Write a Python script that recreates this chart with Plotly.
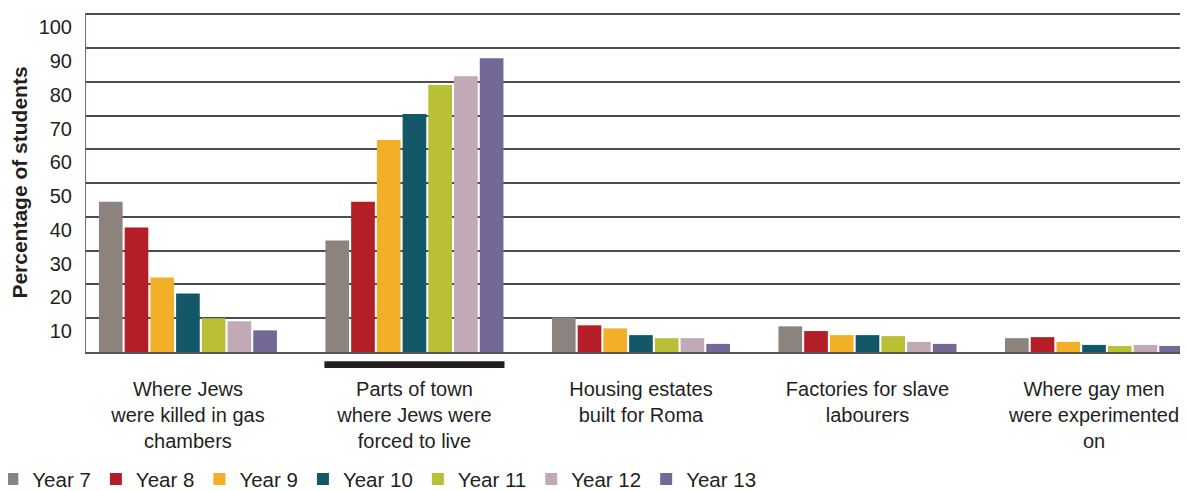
import plotly.graph_objects as go

categories = [
    "Where Jews<br>were killed in gas<br>chambers",
    "Parts of town<br>where Jews were<br>forced to live",
    "Housing estates<br>built for Roma",
    "Factories for slave<br>labourers",
    "Where gay men<br>were experimented<br>on",
]
years = ["Year 7", "Year 8", "Year 9", "Year 10", "Year 11", "Year 12", "Year 13"]
# one list per year group, values per category (percent)
values = {
    "Year 7":  [44.5, 33.0, 10.2, 7.6, 4.1],
    "Year 8":  [36.9, 44.5, 7.9, 6.2, 4.4],
    "Year 9":  [22.1, 62.8, 7.0, 5.0, 3.0],
    "Year 10": [17.3, 70.5, 5.0, 5.0, 2.1],
    "Year 11": [10.0, 79.1, 4.1, 4.7, 1.8],
    "Year 12": [9.1, 81.7, 4.1, 3.0, 2.1],
    "Year 13": [6.4, 87.0, 2.4, 2.4, 1.8],
}
colors = ["#8c837e", "#b41f27", "#f1b028", "#135868", "#b9c035", "#c1a9b6", "#736896"]
y_ticks = [10, 20, 30, 40, 50, 60, 70, 80, 90, 100]
highlight = 1  # index of the correct answer

font_family = "Liberation Sans, Arial, sans-serif"
text_color = "#231f20"
bargap = 0.205

fig = go.Figure()
for yr, col in zip(years, colors):
    fig.add_trace(go.Bar(x=list(range(len(categories))), y=values[yr], name=yr,
                         marker=dict(color=col, line=dict(width=0))))

# black bar under the correct answer
half = (1 - bargap) / 2
fig.add_shape(type="rect", xref="x", yref="paper",
              x0=highlight - half, x1=highlight + half, y0=-0.047, y1=-0.027,
              fillcolor="#231f20", line=dict(width=0))

# page body has an 8px margin, so the figure is 8px smaller and margins shifted
fig.update_layout(
    width=1180, height=483,
    margin=dict(l=78, r=0, t=5, b=139, autoexpand=False),
    paper_bgcolor="white", plot_bgcolor="white",
    barmode="group", bargap=bargap, bargroupgap=0.08,
    font=dict(family=font_family, size=20, color=text_color),
    legend=dict(orientation="h", x=-0.085, xanchor="left", y=-0.375, yanchor="middle",
                font=dict(size=20.5), itemwidth=30, tracegroupgap=0),
    xaxis=dict(
        tickmode="array", tickvals=list(range(len(categories))), ticktext=categories,
        range=[-0.450, 4.415], showgrid=False, zeroline=False, automargin=False,
        showline=True, linecolor="#555555", linewidth=2,
        ticks="outside", ticklen=18, tickcolor="rgba(0,0,0,0)",
        tickfont=dict(size=20),
    ),
    yaxis=dict(
        range=[0, 100.4], tickmode="array", tickvals=y_ticks, automargin=False,
        showgrid=True, gridcolor="#4d4d4d", gridwidth=1.8,
        zeroline=False, showline=True, linecolor="#6f6a8f", linewidth=1,
        ticks="", ticklabelshift=13, ticklabelstandoff=9,
        tickfont=dict(size=20),
        title=dict(text="<b>Percentage of students</b>", font=dict(size=21), standoff=8),
    ),
)

fig.write_html("out.html")
